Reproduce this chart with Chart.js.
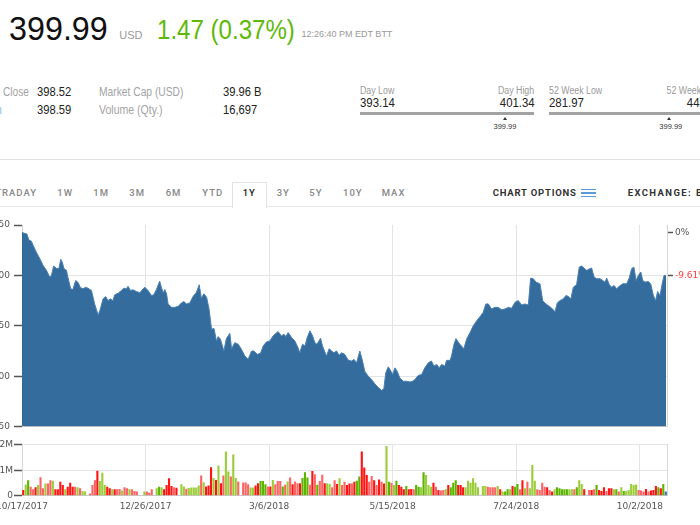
<!DOCTYPE html>
<html>
<head>
<meta charset="utf-8">
<script src="https://cdn.jsdelivr.net/npm/chart.js@4"></script>
<style>
  html, body { margin: 0; padding: 0; background: #fff; }
  #page { position: relative; width: 700px; height: 525px; overflow: hidden; font-family: "Liberation Sans", Arial, sans-serif; }
  .t { position: absolute; white-space: nowrap; line-height: 1; }
  .box { position: absolute; }
  .chartBox { position: absolute; left: -18px; width: 745px; }
</style>
</head>
<body>
<div id="page">
  <div class="chartBox" style="top:215px;height:221px"><canvas id="priceChart" width="745" height="221"></canvas></div>
  <div class="chartBox" style="top:434px;height:91px"><canvas id="volumeChart" width="745" height="91"></canvas></div>
</div>
<script>
// trading days since 10/17/2017, one tick every 50 days
const dayCount = 261;
const dateLabels = ["10/17/2017", "12/26/2017", "3/6/2018", "5/15/2018", "7/24/2018", "10/2/2018"];

// closing price
const priceDays = [
  0, 1.1, 2, 2.8, 3.8, 4.5, 5.8, 7.2, 8.5, 9.9, 11.2, 11.9, 12.8, 13.9, 14.9, 15.7, 16.3, 17, 18, 18.6,
  19.7, 20.6, 21.7, 22.7, 23.6, 24.7, 25.8, 26.7, 28.1, 29.4, 30.8, 31.5, 32.8, 33.9, 34.8, 35.8, 36.8, 37.5, 38.9, 40.2,
  41.2, 42.3, 42.9, 43.9, 44.9, 46.3, 47.7, 49, 49.7, 51, 52.4, 53.3, 54.4, 55.7, 56.4, 57.1, 57.8, 58.5, 59.1, 60.5,
  61.8, 63.2, 64.5, 65.5, 66.6, 67.9, 69.2, 70.6, 71.7, 72.6, 73.6, 74.7, 75.7, 76.7, 77.7, 78.7, 79.4, 80.3, 81.7, 82.7,
  84.1, 84.8, 86.1, 87.5, 88.8, 90.2, 91.5, 92.9, 93.8, 95.2, 96.5, 97.6, 98.9, 100.3, 101.6, 103.6, 105, 106, 106.8, 107.7,
  109.1, 110.4, 111.7, 112.4, 113.5, 114.5, 115.4, 116.5, 117.6, 118.5, 119.4, 120.8, 121.6, 123.2, 124.3, 125.3, 126.2, 127.3, 128.3, 129.3,
  130.6, 132, 133.4, 134.3, 135.4, 136.7, 137.8, 138.7, 140.1, 141.5, 142.8, 144.1, 145.5, 146.4, 147.2, 148.2, 148.9, 150, 150.9, 151.8,
  152.9, 154.3, 155.6, 157, 158.1, 159, 160.3, 161.7, 163, 164.4, 165.7, 166.7, 167.8, 168.8, 169.8, 171.1, 171.8, 173.2, 173.8, 174.8,
  175.6, 176.5, 177.2, 178.8, 179.9, 181.3, 182.6, 184, 185.6, 186.6, 187.7, 188.7, 190, 191.4, 192.7, 194.1, 195.4, 196.8, 198.1, 199.5,
  200.8, 202.2, 203.5, 204.9, 205.8, 206.9, 208, 209.6, 210.7, 212, 213.4, 214.7, 215.7, 216.6, 217.7, 219, 220.1, 221, 222.1, 223.1,
  224.4, 225.5, 226.5, 227.4, 228.5, 229.8, 230.5, 231.5, 232.6, 233.9, 235, 235.9, 236.6, 237.7, 238.6, 239.6, 240.6, 241.7, 243.1, 244.7,
  245.7, 246.7, 247.6, 248.5, 249.4, 250.4, 251.2, 252.1, 253.4, 254.4, 255.5, 256.4, 257.2, 258.2, 258.9, 259.8, 260.6
];
const priceValues = [
  442.5, 441.7, 441, 435, 434, 430, 423, 416.7, 410, 405, 398.3, 400, 409.3, 407, 406.7, 416, 413, 406.7, 405, 398,
  386.7, 386, 395, 393, 388, 386.7, 388.3, 387.3, 385, 371.7, 360.7, 365, 376.7, 379, 375, 376.7, 375, 380.7, 382.3, 385,
  387.3, 386.7, 389.3, 385, 385.7, 384, 382.7, 386.7, 388.3, 385, 380, 380.7, 386, 394.3, 388.3, 382.7, 386, 381.7, 371.7, 368.3,
  368.3, 369.3, 372.7, 374, 371.7, 372.7, 379, 383.3, 390.7, 377.3, 381.7, 378.3, 366.7, 346.7, 347.3, 335, 339.3, 336.7, 325, 337.3,
  342.5, 327.3, 333.3, 331.7, 326.7, 320, 316.7, 325, 325, 321.7, 322.7, 330, 334, 335, 340, 344.3, 340, 341.7, 339.3, 343.3,
  338.3, 335, 328.3, 323.3, 331.7, 330, 338.3, 345, 340, 333.3, 331.7, 337.7, 330, 320, 327.3, 325, 323.3, 325, 320.7, 323.3,
  321.7, 316, 315, 316.7, 313.3, 325, 315, 305, 300, 296.7, 292.3, 289, 286, 287.3, 303.3, 309.3, 306.7, 301.7, 308.3, 305,
  298.3, 295, 295, 294.3, 295, 296.7, 300.7, 301.7, 308.3, 313.3, 315, 310, 311.7, 308.3, 311.7, 310, 315.7, 315.7, 320, 331.7,
  337.3, 334, 331.7, 327.3, 336.7, 343.3, 350, 355, 360, 363.3, 371.7, 371.7, 366.7, 368.3, 368.3, 366, 366.7, 368.3, 367.3, 373.3,
  375, 370.7, 371.7, 370.7, 397.3, 396.7, 393.3, 391.7, 375, 371.7, 369.3, 366.7, 364, 372.7, 375, 376.7, 380, 379.3, 376.7, 388.3,
  390.7, 408.3, 409.3, 407.3, 405, 406.7, 407.3, 398.3, 396.7, 396.7, 395, 393.3, 397.3, 390.7, 388.3, 390, 386.7, 389.3, 391.7, 391.7,
  397.3, 406.7, 408.3, 395, 400, 403.3, 395, 393.3, 394, 391.7, 380, 375, 384, 380, 390, 400, 399.99
];

// daily volume in millions (null = no bar), one entry per trading day
const volumeM = [
  .22, .44, .61, .35, .25, .33, .42, .72, .29, .48,
  .48, .61, .59, .25, .25, .55, .42, .25, .35, .51,
  .35, .35, .33, .29, .18, .16, null, .09, .42, .61,
  .98, .58, .90, .42, .35, .29, .25, .25, .25, .26,
  .20, .33, .29, .25, .25, .18, .16, null, null, .16,
  .16, .12, .25, null, .29, .35, .33, .25, .42, .68,
  .38, .33, .31, null, .45, .36, .27, .30, .32, .32,
  .32, .40, .79, .53, .36, .40, 1.12, .69, .62, 1.18,
  .49, .79, 1.73, .95, .75, 1.62, .69, .56, null, .52,
  .52, .45, .32, .32, .40, .49, .58, .58, .45, .36,
  .36, .62, .45, .58, .58, .36, .43, .56, .71, .45,
  .56, .49, .49, .69, .92, .71, .43, .97, .84, .43,
  .58, .82, .49, .49, .46, .33, .61, .46, .68, .42,
  .55, .42, .48, .48, .55, .59, .75, 1.73, 1.11, .81,
  .55, .77, .61, .42, .64, .55, .48, 1.95, .55, .51,
  .42, .59, .42, .35, .25, .38, .25, .26, .25, .42,
  .35, .33, .92, .81, .42, .35, .51, .35, .22, .20,
  .22, .25, .42, .33, .51, .61, .42, .42, .33, .33,
  .59, .51, .68, .51, .33, null, .38, .38, .35, .33,
  .33, .33, .38, .25, .16, .16, .25, .25, .38, .35,
  .46, .25, .61, .29, .55, .29, 1.2, .59, .25, .22,
  .51, .35, .33, .22, .16, .25, .33, .29, .25, .25,
  .25, .25, .25, .25, .33, .61, .46, .25, null, .22,
  .22, .25, .42, .22, .18, .33, .18, .29, .29, .25,
  .25, .16, .33, .18, .18, .22, .46, .42, .44, .22,
  .20, .16, .26, .16, .20, .22, .38, .33, .29, .46, .16
];
// bar class per day: R down, r down (light), G up, g up (light), B today, - none
const volumeTone = (
  "RgGrrRgrrg" + "rrgRRRRgRR" + "Rrgrgg-rrr" + "RgggRRgRrr" + "grrgrrr--g" +
  "rrr-gGgRRR" + "RrR-ggrggg" + "ggrgRRRgRg" + "Rrggrggr-r" + "rrggRRGGGr" +
  "RgrrrGrgrR" + "rrRGGGrRrG" + "rrRggrrRgr" + "rRRrRGGRRR" + "rrRrRrRgGr" +
  "gGRRRGRRrG" + "GgGgggRrRr" + "rgRGGGRRRg" + "ggggg-ggrr" + "rrgRgGGgRG" +
  "GrRgrgggrr" + "rrRrRgGGGG" + "GggrGggR-r" + "RrGRRRrRRg" + "GrgGgggggr" +
  "rrRrRRRGRGB"
).split("");

const tonePalette = { R: "#ff1414", r: "#ff6464", G: "#5ab400", g: "#9bcd3a", B: "#3d6fae" };

const page = document.getElementById("page");

function put(text, x, base, size, color, opts = {}) {
  const el = document.createElement("div");
  el.className = "t";
  el.textContent = text;
  el.style.fontSize = size + "px";
  el.style.color = color;
  el.style.top = (base - size * 0.846) + "px";
  if (opts.font) el.style.fontFamily = opts.font;
  if (opts.weight) el.style.fontWeight = opts.weight;
  if (opts.spacing) el.style.letterSpacing = opts.spacing + "px";
  const sx = opts.sx || 1;
  if (opts.align === "right") {
    el.style.right = (700 - x) + "px";
    el.style.transformOrigin = "100% 0";
    el.style.transform = `scaleX(${sx})`;
  } else if (opts.align === "center") {
    el.style.left = x + "px";
    el.style.transform = `translateX(-50%) scaleX(${sx})`;
  } else {
    el.style.left = x + "px";
    el.style.transformOrigin = "0 0";
    el.style.transform = `scaleX(${sx})`;
  }
  page.appendChild(el);
}

function rect(x, y, w, h, css) {
  const el = document.createElement("div");
  el.className = "box";
  el.style.left = x + "px";
  el.style.top = y + "px";
  el.style.width = w + "px";
  el.style.height = h + "px";
  Object.assign(el.style, css);
  page.appendChild(el);
}

function triangle(cx, y) {
  rect(cx - 2.5, y, 0, 0, { borderLeft: "2.5px solid transparent", borderRight: "2.5px solid transparent", borderBottom: "3px solid #333" });
}

// quote header
put("399.99", 9.3, 39.3, 34, "#111", { sx: 0.95 });
put("USD", 119.3, 39.3, 11, "#999");
put("1.47 (0.37%)", 156.7, 39.3, 28, "#5fb80a", { sx: 0.86 });
put("12:26:40 PM EDT BTT", 301.5, 38, 9, "#999");

put("Open", 1.5, 114.3, 13, "#8bb8dd", { align: "right", sx: 0.8 });
put("Close", 2.7, 96, 13, "#a3a3a3", { sx: 0.78 });
put("398.52", 36.7, 96, 13, "#222", { sx: 0.86 });
put("398.59", 36.7, 114.3, 13, "#222", { sx: 0.86 });
put("Market Cap (USD)", 99.3, 96, 13, "#a3a3a3", { sx: 0.79 });
put("Volume (Qty.)", 99.3, 114.3, 13, "#a3a3a3", { sx: 0.81 });
put("39.96 B", 223.3, 96, 13, "#222", { sx: 0.86 });
put("16,697", 223.3, 114.3, 13, "#222", { sx: 0.86 });

// day / 52 week ranges
put("Day Low", 360, 94, 10, "#9a9a9a", { sx: 0.88 });
put("Day High", 534.3, 94, 10, "#9a9a9a", { align: "right", sx: 0.88 });
put("393.14", 360, 107.5, 12, "#222", { sx: 0.95 });
put("401.34", 534.3, 107.5, 12, "#222", { align: "right", sx: 0.95 });
rect(360, 112.3, 174.3, 2.7, { background: "#a2a2a2" });
triangle(505.7, 116.5);
put("399.99", 505, 129, 7.5, "#333", { align: "center" });

put("52 Week Low", 549.3, 94, 10, "#9a9a9a", { sx: 0.88 });
put("52 Week High", 722, 94, 10, "#9a9a9a", { align: "right", sx: 0.88 });
put("281.97", 549.3, 107.5, 12, "#222", { sx: 0.95 });
put("445.75", 722, 107.5, 12, "#222", { align: "right", sx: 0.95 });
rect(549.3, 112.3, 172.7, 2.7, { background: "#a2a2a2" });
triangle(669, 116.5);
put("399.99", 670.8, 129, 7.5, "#333", { align: "center" });

rect(0, 158.5, 700, 1, { background: "#e2e2e2" });

// range tabs
rect(0, 205.5, 700, 1, { background: "#e6e6e6" });
rect(232.3, 181.5, 32.4, 25, { borderTop: "1px solid #e2e2e2", borderLeft: "1px solid #e2e2e2", borderRight: "1px solid #e2e2e2", background: "#fff" });
const tabFont = { font: "Roboto, 'DejaVu Sans', sans-serif", weight: 500, spacing: 1 };
put("INTRADAY", 37, 196, 9.5, "#888", { ...tabFont, align: "right" });
const tabs = [["1W", 57.3], ["1M", 93.3], ["3M", 129.3], ["6M", 165.7], ["YTD", 202.3], ["1Y", 242.7], ["3Y", 276.7], ["5Y", 309.3], ["10Y", 343], ["MAX", 381.7]];
for (const [name, x] of tabs) {
  put(name, x, 196, 9.5, name === "1Y" ? "#222" : "#888", tabFont);
}
put("CHART OPTIONS", 492.7, 196, 9.5, "#333", { ...tabFont, weight: 700, spacing: 0.8 });
for (const y of [188.5, 192, 195.5]) rect(580.5, y, 15, 1.5, { background: "#5b9bd5" });
put("EXCHANGE: BATS", 627.7, 196, 9.5, "#333", { ...tabFont, weight: 700, spacing: 1.4 });

// charts
const gridColor = "#e4e4e4";
const tickFont = { family: "'DejaVu Sans', Verdana, sans-serif", size: 9 };
const dateTicks = dateLabels.map((_, i) => ({ value: i * 50 }));
const baseClose = priceValues[0];
const lastClose = priceValues[priceValues.length - 1];

function pctLabel(value) {
  const pct = (value / baseClose - 1) * 100;
  return Math.abs(pct) < 0.005 ? "0%" : pct.toFixed(2) + "%";
}

new Chart(document.getElementById("priceChart"), {
  type: "line",
  data: {
    datasets: [{
      data: priceDays.map((day, i) => ({ x: day, y: priceValues[i] })),
      borderColor: "#4a80b3",
      borderWidth: 1,
      backgroundColor: "rgba(40,99,152,0.94)",
      fill: "start",
      pointRadius: 0,
      tension: 0,
    }],
  },
  options: {
    responsive: false,
    animation: false,
    layout: { padding: { top: 10, bottom: 5, left: 0, right: 0 } },
    plugins: { legend: { display: false }, tooltip: { enabled: false } },
    scales: {
      x: {
        type: "linear", min: 0, max: dayCount, offset: false,
        afterBuildTicks: (scale) => { scale.ticks = dateTicks.map((t) => ({ ...t })); },
        afterFit: (scale) => { scale.height = 0; },
        ticks: { display: false },
        grid: { color: gridColor, drawTicks: false },
        border: { display: true, color: "#c9c9c9" },
      },
      y: {
        min: 250, max: 450,
        afterFit: (scale) => { scale.width = 40; },
        ticks: { stepSize: 50, padding: 4, color: "#555", font: tickFont },
        grid: {
          color: (ctx) => (ctx.tick && ctx.tick.value === 450 ? "rgba(0,0,0,0)" : gridColor),
          tickColor: "#555", tickLength: 8, tickWidth: 1.5,
        },
        border: { display: true, color: "#d6d6d6" },
      },
      y1: {
        position: "right", min: 250, max: 450,
        afterBuildTicks: (scale) => { scale.ticks = [{ value: baseClose }, { value: lastClose }]; },
        afterFit: (scale) => { scale.width = 60; },
        ticks: {
          padding: 2, font: tickFont,
          color: (ctx) => (ctx.index === 1 ? "#ff3c3c" : "#555"),
          callback: (value) => pctLabel(value),
        },
        grid: { drawOnChartArea: false, tickColor: "#555", tickLength: 6, tickWidth: 1.5 },
        border: { display: true, color: "#d6d6d6" },
      },
    },
  },
});

new Chart(document.getElementById("volumeChart"), {
  type: "bar",
  data: {
    datasets: [{
      data: volumeM.map((v, day) => ({ x: day + 0.5, y: v })),
      backgroundColor: volumeTone.map((c) => tonePalette[c] || "#fff"),
      barPercentage: 0.86,
      categoryPercentage: 1,
    }],
  },
  options: {
    responsive: false,
    animation: false,
    layout: { padding: { top: 10.7, bottom: 9.3, left: 0, right: 0 } },
    plugins: { legend: { display: false }, tooltip: { enabled: false } },
    scales: {
      x: {
        type: "linear", min: 0, max: dayCount, offset: false,
        afterBuildTicks: (scale) => { scale.ticks = dateTicks.map((t) => ({ ...t })); },
        afterFit: (scale) => { scale.height = 20; },
        ticks: {
          padding: 6, color: "#555", font: tickFont, maxRotation: 0, autoSkip: false,
          callback: (value) => dateLabels[Math.round(value / 50)],
        },
        grid: { color: gridColor, drawTicks: false, offset: false },
        border: { display: true, color: "#c9c9c9" },
      },
      y: {
        min: 0, max: 2,
        afterFit: (scale) => { scale.width = 40; },
        ticks: { stepSize: 1, padding: 1, color: "#555", font: tickFont, callback: (v) => (v === 0 ? "0" : v + "M") },
        grid: { color: gridColor, tickColor: "#555", tickLength: 8, tickWidth: 1.5 },
        border: { display: true, color: "#d6d6d6" },
      },
      y1: {
        position: "right", min: 0, max: 2,
        afterFit: (scale) => { scale.width = 60; },
        ticks: { display: false },
        grid: { drawOnChartArea: false, drawTicks: false },
        border: { display: true, color: "#d6d6d6" },
      },
    },
  },
});
</script>
</body>
</html>
